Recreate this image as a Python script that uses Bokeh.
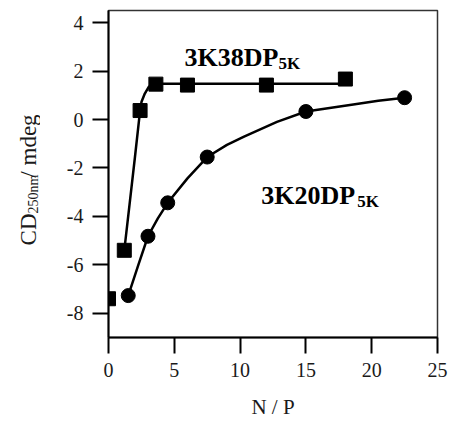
import math
from bokeh.plotting import figure
from bokeh.models import FixedTicker, Label, Range1d
from bokeh.layouts import row
from bokeh.embed import file_html
from bokeh.resources import INLINE

# --- data ---
sq_x = [0.0, 1.2, 2.4, 3.6, 6.0, 12.0, 18.0]
sq_y = [-7.4, -5.4, 0.37, 1.46, 1.42, 1.42, 1.67]

ci_x = [1.5, 3.0, 4.5, 7.5, 15.0, 22.5]
ci_y = [-7.27, -4.82, -3.44, -1.55, 0.33, 0.9]

# fitted curves
fit_sq_x = [1.2, 1.6, 2.0, 2.4, 2.51, 2.76, 3.06, 3.44, 3.6, 6.0, 12.0, 18.0]
fit_sq_y = [-5.4, -3.5, -1.6, 0.37, 0.73, 1.07, 1.35, 1.47, 1.48, 1.48, 1.48, 1.48]

fit_ci_x = [1.5, 2.25, 3.0, 3.75, 4.5, 6.0, 7.5, 9.0, 10.3, 12.8, 15.0, 18.6, 20.5, 22.5]
fit_ci_y = [-7.27, -6.03, -4.82, -4.08, -3.44, -2.43, -1.55, -1.05, -0.71, -0.1, 0.33, 0.62, 0.77, 0.9]

x_ticks = [0, 5, 10, 15, 20, 25]
y_ticks = [-8, -6, -4, -2, 0, 2, 4]
y_tick_labels = ["-8", "-6", "-4", "-2", "0", "2", "4"]

SERIF = "Liberation Serif"
TXT = "#1a1a1a"
H = 423
X0, X1 = 0, 25
Y0, Y1 = -9, 4.5

# ---- narrow figure holding the rotated y-axis title (frame aligned with main frame) ----
yl = figure(width=40, height=H, output_backend="svg", toolbar_location=None,
            x_range=Range1d(0, 40), y_range=Range1d(Y0, Y1),
            min_border=0, min_border_left=0, min_border_right=0,
            min_border_top=0, min_border_bottom=0)
yl.axis.visible = False
yl.grid.visible = False
yl.outline_line_color = None


def ylab(x, y, text, size):
    yl.add_layout(Label(x=x, y=y, text=text, text_font=SERIF, text_font_size=size,
                        text_color=TXT, text_baseline="alphabetic", text_align="left",
                        angle=math.pi / 2))


ylab(28, -5.2, "CD", "23px")
ylab(33, -3.88, "250nm", "14px")
ylab(28, -2.4, "/ mdeg", "23px")

# ---- main plot ----
p = figure(width=409, height=H, output_backend="svg", toolbar_location=None,
           x_range=Range1d(X0, X1), y_range=Range1d(Y0, Y1),
           min_border_left=68, min_border_right=12, min_border_top=10, min_border_bottom=86)
p.grid.visible = False
p.background_fill_color = "white"
p.border_fill_color = "white"
p.outline_line_color = "black"
p.outline_line_width = 1.5
p.outline_line_alpha = 0.8

for ax in (p.xaxis[0], p.yaxis[0]):
    ax.axis_line_color = "black"
    ax.axis_line_width = 2
    ax.major_tick_line_color = "black"
    ax.major_tick_line_width = 2
    ax.major_tick_in = 0
    ax.major_tick_out = 16
    ax.minor_tick_line_color = None
    ax.major_label_text_font = SERIF
    ax.major_label_text_font_size = "20px"
    ax.major_label_text_color = TXT

p.xaxis.ticker = FixedTicker(ticks=x_ticks)
p.yaxis.ticker = FixedTicker(ticks=y_ticks)
p.yaxis.major_label_overrides = {t: s for t, s in zip(y_ticks, y_tick_labels)}
p.xaxis.major_label_standoff = 9
p.yaxis.major_label_standoff = 9

p.xaxis.axis_label = "N / P"
p.xaxis.axis_label_text_font = SERIF
p.xaxis.axis_label_text_font_size = "21px"
p.xaxis.axis_label_text_font_style = "normal"
p.xaxis.axis_label_text_color = TXT
p.xaxis.axis_label_standoff = 15

# curves
p.line(fit_sq_x, fit_sq_y, line_color="black", line_width=2.5)
p.line(fit_ci_x, fit_ci_y, line_color="black", line_width=2.5)
# markers
p.scatter(sq_x, sq_y, marker="square", size=14, fill_color="black", line_color="black")
p.scatter(ci_x, ci_y, marker="circle", size=14, fill_color="black", line_color="black")


def lab(x, y, text, size):
    p.add_layout(Label(x=x, y=y, text=text, text_font=SERIF, text_font_size=size,
                       text_font_style="bold", text_color="black",
                       text_baseline="alphabetic", text_align="left"))


lab(5.78, 2.57, "3K38DP", "26px")
lab(12.92, 2.33, "5K", "17px")
lab(11.6, -3.15, "3K20DP", "26px")
lab(18.9, -3.38, "5K", "17px")

layout = row(yl, p, spacing=0)
open("out.html", "w").write(file_html(layout, INLINE))
